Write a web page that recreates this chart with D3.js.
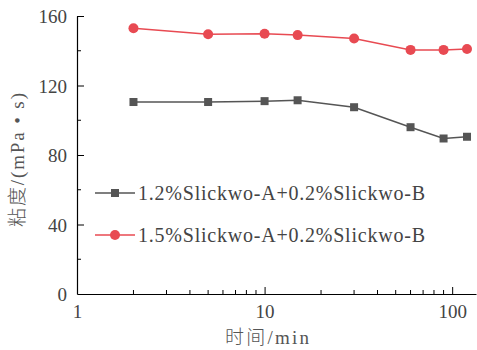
<!DOCTYPE html>
<html>
<head>
<meta charset="utf-8">
<script src="https://cdn.jsdelivr.net/npm/d3@7"></script>
<style>
  body { margin: 0; background: #fff; }
</style>
</head>
<body>
<div></div>
<script>
const times = [2, 5, 10, 15, 30, 60, 90, 120];
const seriesA = [110.5, 110.5, 111, 111.5, 107.5, 96, 89.5, 90.5];
const seriesB = [153, 149.5, 149.8, 149, 147, 140.5, 140.5, 141];
const seriesNames = ["1.2%Slickwo-A+0.2%Slickwo-B", "1.5%Slickwo-A+0.2%Slickwo-B"];
const yTicks = [0, 40, 80, 120, 160];
const xTicks = [1, 10, 100];

const W = 477, H = 350;
const plotLeft = 77, plotRight = 476, plotTop = 16, plotBottom = 294;

const svg = d3.select("div").append("svg").attr("width", W).attr("height", H);

const x = d3.scaleLog().domain([1, 134]).range([plotLeft, plotRight]);
const y = d3.scaleLinear().domain([0, 160]).range([plotBottom, plotTop]);

const serif = "Liberation Serif";
const serifCjk = "Liberation Serif, Noto Sans CJK SC";

// y axis, ticks inward
const yAxis = svg.append("g").attr("transform", "translate(" + plotLeft + ",0)")
  .call(d3.axisLeft(y).tickValues(yTicks).tickSize(-7).tickPadding(10).tickSizeOuter(0));
yAxis.selectAll(".tick").filter(d => d === 0).select("line").remove();
svg.append("g").selectAll("line")
  .data(d3.range(20, 160, 40))
  .enter().append("line")
  .attr("x1", plotLeft).attr("x2", plotLeft + 4)
  .attr("y1", d => y(d)).attr("y2", d => y(d))
  .attr("stroke", "#000");

// x axis
const minor = [];
for (let d = 1; d <= 100; d *= 10) {
  for (let k = 2; k <= 9; k++) if (d * k <= 134) minor.push(d * k);
}
const xAxis = svg.append("g").attr("transform", "translate(0," + plotBottom + ")")
  .call(d3.axisBottom(x).tickValues(xTicks).tickFormat(d3.format("d")).tickSize(-7).tickPadding(10).tickSizeOuter(0));
xAxis.selectAll(".tick").filter(d => d === 1).select("line").remove();
svg.append("g").selectAll("line")
  .data(minor)
  .enter().append("line")
  .attr("x1", d => x(d)).attr("x2", d => x(d))
  .attr("y1", plotBottom).attr("y2", plotBottom - 4)
  .attr("stroke", "#000");

svg.selectAll(".domain").attr("stroke", "#000").attr("stroke-width", 1.2);
svg.selectAll(".tick line").attr("stroke", "#000");
svg.selectAll(".tick text")
  .attr("font-family", serif).attr("font-size", 19).attr("fill", "#444");
yAxis.selectAll(".tick text").attr("dy", "0.35em");
xAxis.selectAll(".tick text").attr("dy", "0.75em");

// lines
const line = d3.line().x(d => x(d[0])).y(d => y(d[1]));
const colors = ["#555555", "#e84a52"];
const dataA = times.map((t, i) => [t, seriesA[i]]);
const dataB = times.map((t, i) => [t, seriesB[i]]);

svg.append("path").datum(dataA).attr("d", line)
  .attr("fill", "none").attr("stroke", colors[0]).attr("stroke-width", 1.5);
svg.append("path").datum(dataB).attr("d", line)
  .attr("fill", "none").attr("stroke", colors[1]).attr("stroke-width", 1.5);

svg.append("g").selectAll("rect").data(dataA).enter().append("rect")
  .attr("x", d => x(d[0]) - 4).attr("y", d => y(d[1]) - 4)
  .attr("width", 8).attr("height", 8).attr("fill", colors[0]);
svg.append("g").selectAll("circle").data(dataB).enter().append("circle")
  .attr("cx", d => x(d[0])).attr("cy", d => y(d[1])).attr("r", 5)
  .attr("fill", colors[1]);

// legend
const legY = [193, 235];
seriesNames.forEach((name, i) => {
  const g = svg.append("g");
  g.append("line").attr("x1", 95).attr("x2", 135)
    .attr("y1", legY[i]).attr("y2", legY[i])
    .attr("stroke", colors[i]).attr("stroke-width", 1.5);
  if (i === 0) {
    g.append("rect").attr("x", 111).attr("y", legY[i] - 4).attr("width", 8).attr("height", 8)
      .attr("fill", colors[i]);
  } else {
    g.append("circle").attr("cx", 115).attr("cy", legY[i]).attr("r", 5).attr("fill", colors[i]);
  }
  g.append("text").attr("x", 138).attr("y", legY[i]).attr("dy", "0.36em")
    .attr("font-family", serif).attr("font-size", 20).attr("fill", "#444")
    .attr("textLength", 287).attr("lengthAdjust", "spacing")
    .text(name);
});

// axis titles
svg.append("text").attr("x", 225).attr("y", 337).attr("dy", "0.35em")
  .attr("font-family", serifCjk).attr("font-size", 19).attr("font-weight", 300)
  .attr("textLength", 84).attr("lengthAdjust", "spacing")
  .attr("fill", "#555").text("时间/min");
svg.append("text").attr("transform", "translate(17,160) rotate(-90)").attr("dy", "0.35em")
  .attr("x", -67)
  .attr("font-family", serifCjk).attr("font-size", 19).attr("font-weight", 300)
  .attr("textLength", 134).attr("lengthAdjust", "spacing")
  .attr("fill", "#555").text("粘度/(mPa • s)");
</script>
</body>
</html>
